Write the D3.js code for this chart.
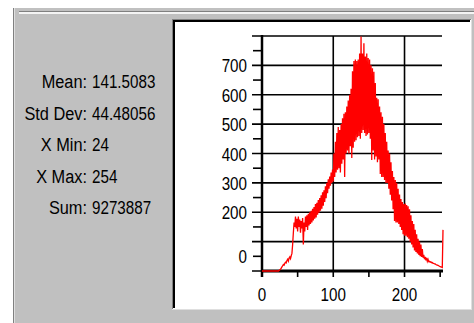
<!DOCTYPE html>
<html>
<head>
<meta charset="utf-8">
<script src="https://cdn.jsdelivr.net/npm/d3@7"></script>
<style>
  html, body { margin: 0; padding: 0; background: #fff; }
  svg { display: block; }
  text { font-family: "Liberation Sans", Arial, sans-serif; font-size: 19px; fill: #000; }
</style>
</head>
<body>
<div id="chart"></div>
<script>
// histogram counts for grey levels 0..254
const counts = [
  0, 0, 0, 0, 0, 0, 0, 0, 0, 0, 0, 0, 0, 0, 0, 0, 0, 0, 0, 0, 0, 0, 0, 0,
  2, 4, 6, 10, 14, 18, 22, 20, 26, 30, 28, 36, 40, 34, 44, 48, 42, 52, 60, 90, 130, 165,
  150, 185, 145, 178, 135, 185, 150, 175, 130, 170, 145, 180, 90, 165, 135, 185, 150, 190, 140, 195, 155, 200, 160,
  205, 165, 212, 172, 218, 178, 228, 182, 232, 192, 242, 198, 248, 205, 258, 212, 268, 222, 275, 235, 288, 248, 300,
  265, 312, 280, 322, 290, 335, 300, 345, 305,
  400, 320, 440, 335, 470, 345, 490, 350, 480, 335, 500, 365, 520, 380, 535, 320, 540, 400, 560, 410,
  580, 400, 600, 425, 620, 385, 680, 420, 715, 440, 720, 445, 715, 455, 720, 460, 740, 450, 798, 470,
  740, 480, 775, 470, 730, 460, 740, 465, 725, 470, 720, 450, 700, 378, 690, 410, 678, 380, 640, 390,
  590, 370, 585, 380, 560, 330, 540, 320, 525, 320, 500, 310, 470, 300, 440, 300, 410, 280, 400, 260,
  370, 240, 340, 210, 320, 170, 310, 165, 300, 165, 280, 160, 260, 150, 245, 140, 235, 125, 228, 120,
  230, 120, 225, 115, 220, 110, 210, 100, 190, 90, 170, 80, 160, 70, 140, 65, 125, 60, 110, 55,
  100, 50, 90, 48, 75, 45, 55, 40, 48, 36, 45, 33, 40,
  32, 33, 30, 31, 28, 29, 26, 26, 24, 24, 22, 21, 20, 19, 18, 16, 15, 14, 13, 12, 140
];

const statNames = ['Mean:', 'Std Dev:', 'X Min:', 'X Max:', 'Sum:'];
const statValues = ['141.5083', '44.48056', '24', '254', '9273887'];

const yGridValues = [0, 100, 200, 300, 400, 500, 600, 700, 800];
const yMinorValues = [50, 150, 250, 350, 450, 550, 650, 750];
const yLabelValues = [50, 200, 300, 400, 500, 600, 700];
const yLabels = ['0', '200', '300', '400', '500', '600', '700'];
const xMajorValues = [0, 100, 200];
const xMinorValues = [50, 150, 250];
const xLabels = ['0', '100', '200'];

const W = 474, H = 323;
const svg = d3.select('#chart').append('svg').attr('width', W).attr('height', H);

// grey dialog panel with etched edges
svg.append('rect').attr('x', 13).attr('y', 8).attr('width', W - 13).attr('height', H - 8).attr('fill', '#c0c0c0');
svg.append('rect').attr('x', 13).attr('y', 8).attr('width', 1).attr('height', H - 8).attr('fill', '#808080');
svg.append('rect').attr('x', 14).attr('y', 8).attr('width', 1).attr('height', H - 8).attr('fill', '#dfdfdf');
svg.append('rect').attr('x', 19).attr('y', 11).attr('width', W - 19).attr('height', 1).attr('fill', '#808080');
svg.append('rect').attr('x', 19).attr('y', 12).attr('width', W - 19).attr('height', 2).attr('fill', '#f4f4f4');

// stats column (digits are narrower than letters in the original bitmap font)
const sx = 0.86, sxNum = 0.8;
statNames.forEach((name, i) => {
  const by = 88 + 31.5 * i;
  svg.append('text').attr('transform', `translate(87,${by}) scale(${sx},1)`)
    .attr('text-anchor', 'end').text(name);
  svg.append('text').attr('transform', `translate(92,${by}) scale(${sxNum},1)`)
    .attr('text-anchor', 'start').text(statValues[i]);
});

// sunken white plot box
const box = { x: 172, y: 19, w: 300, h: 291 };
svg.append('rect').attr('x', box.x).attr('y', box.y).attr('width', box.w).attr('height', box.h).attr('fill', '#dfdfdf');
svg.append('rect').attr('x', box.x).attr('y', box.y).attr('width', box.w - 1).attr('height', box.h - 1).attr('fill', '#808080');
svg.append('rect').attr('x', box.x + 1).attr('y', box.y + 1).attr('width', box.w - 2).attr('height', box.h - 2).attr('fill', '#fff');
svg.append('rect').attr('x', box.x + 1).attr('y', box.y + 1).attr('width', box.w - 3).attr('height', box.h - 3).attr('fill', '#000');
svg.append('rect').attr('x', box.x + 3).attr('y', box.y + 3).attr('width', box.w - 5).attr('height', box.h - 5).attr('fill', '#fff');

const x = d3.scaleLinear().domain([0, 254]).range([262, 443]);
const y = d3.scaleLinear().domain([0, 800]).range([271, 36]);

const g = svg.append('g');

// horizontal grid + major left ticks
g.selectAll('.hgrid').data(yGridValues).enter().append('line')
  .attr('x1', x(0) - 10).attr('x2', x(254) - 1)
  .attr('y1', d => y(d)).attr('y2', d => y(d))
  .attr('stroke', '#000').attr('stroke-width', 1.6);
g.selectAll('.yminor').data(yMinorValues).enter().append('line')
  .attr('x1', x(0) - 9).attr('x2', x(0))
  .attr('y1', d => y(d)).attr('y2', d => y(d))
  .attr('stroke', '#000').attr('stroke-width', 1.6);

// vertical grid
g.selectAll('.vgrid').data(xMajorValues.slice(1)).enter().append('line')
  .attr('x1', d => x(d)).attr('x2', d => x(d))
  .attr('y1', y(800)).attr('y2', y(0) + 6)
  .attr('stroke', '#000').attr('stroke-width', 1.6);
g.selectAll('.xminor').data(xMinorValues).enter().append('line')
  .attr('x1', d => x(d)).attr('x2', d => x(d))
  .attr('y1', y(0)).attr('y2', y(0) + 6)
  .attr('stroke', '#000').attr('stroke-width', 1.6);

// axes
g.append('line').attr('x1', x(0)).attr('x2', x(0)).attr('y1', y(800) - 1).attr('y2', y(0) + 6)
  .attr('stroke', '#000').attr('stroke-width', 2.5);
g.append('line').attr('x1', x(0)).attr('x2', x(254)).attr('y1', y(0)).attr('y2', y(0))
  .attr('stroke', '#000').attr('stroke-width', 2.8);

// histogram trace
const line = d3.line().x((d, i) => x(i)).y(d => y(d));
g.append('path').datum(counts)
  .attr('d', line)
  .attr('fill', 'none')
  .attr('stroke', '#ff0000')
  .attr('stroke-width', 1.3);

// tick labels
yLabelValues.forEach((v, i) => {
  g.append('text').attr('transform', `translate(247,${y(v) + 7}) scale(${sxNum},1)`)
    .attr('text-anchor', 'end').text(yLabels[i]);
});
xMajorValues.forEach((v, i) => {
  g.append('text').attr('transform', `translate(${x(v)},301) scale(${sxNum},1)`)
    .attr('text-anchor', 'middle').text(xLabels[i]);
});
</script>
</body>
</html>
